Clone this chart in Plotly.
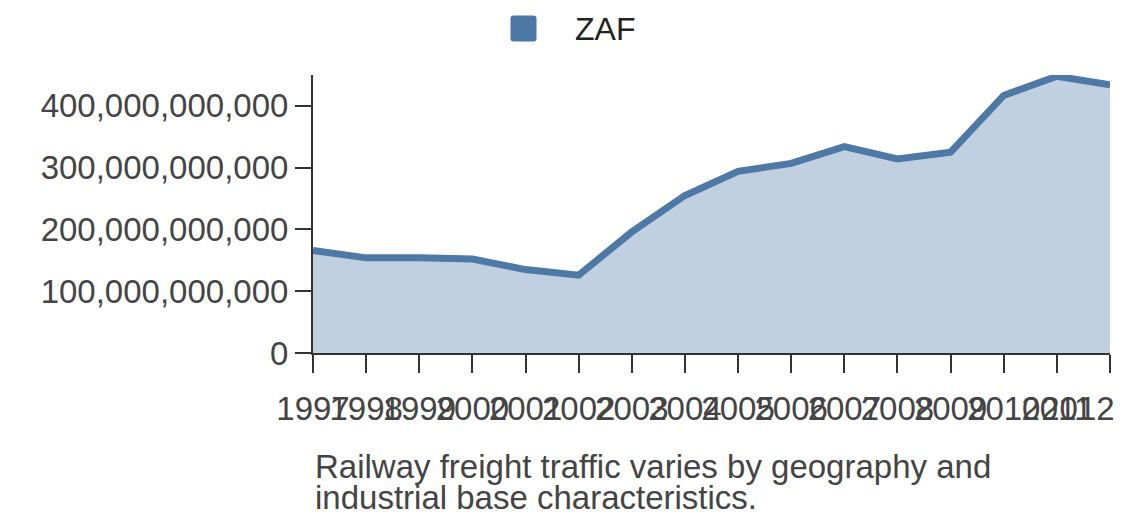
import plotly.graph_objects as go

years = list(range(1997, 2013))
freight = [166e9, 154e9, 154e9, 152e9, 135e9, 126e9, 196e9, 255e9,
           294e9, 307e9, 334e9, 314e9, 325e9, 417e9, 448e9, 434e9]
country = "ZAF"
caption = ["Railway freight traffic varies by geography and",
           "industrial base characteristics."]

line_col = "#4e79a7"
fill_col = "rgba(78,121,167,0.35)"
font_fam = "Liberation Sans, Arial, sans-serif"

# the html page puts an 8px body margin around the figure
OFF = 8
W, H = 1140 - 2 * OFF, 528 - 2 * OFF
ml, mt = 313 - OFF, 75 - OFF
mr = W - (1110 - OFF)
mb = H - (353 - OFF)
plot_w = W - ml - mr
plot_h = H - mt - mb

# window pixel -> paper coords
def px_x(p):
    return (p - OFF - ml) / plot_w

def px_y(p):
    return (H - mb - (p - OFF)) / plot_h

fig = go.Figure()
fig.add_trace(go.Scatter(x=years, y=freight, mode="lines", fill="tozeroy",
                         fillcolor=fill_col, line=dict(color=line_col, width=7),
                         cliponaxis=False,
                         name=country, showlegend=False, hoverinfo="x+y"))

# last label nudged left so it stays inside the page (as in the original)
ticktext = [str(y) for y in years]
ticktext[-1] = ticktext[-1] + "&nbsp;" * 7

fig.update_layout(
    width=W, height=H,
    margin=dict(l=ml, r=mr, t=mt, b=mb, autoexpand=False),
    plot_bgcolor="white", paper_bgcolor="white",
    font=dict(family=font_fam, size=33, color="#444"),
    showlegend=False,
)
fig.update_xaxes(range=[1997, 2012], tickmode="array", tickvals=years,
                 ticktext=ticktext, tickangle=0, ticklabeloverflow="allow",
                 showgrid=False, zeroline=False, showline=True,
                 linecolor="#333", linewidth=2, ticks="outside", ticklen=18,
                 tickwidth=2, tickcolor="#333", ticklabelstandoff=7,
                 tickfont=dict(size=33, color="#444"))
fig.update_yaxes(range=[0, 450e9], tickvals=[0, 100e9, 200e9, 300e9, 400e9],
                 tickformat=",d", showgrid=False, zeroline=False, showline=True,
                 linecolor="#333", linewidth=2, ticks="outside", ticklen=16,
                 tickwidth=2, tickcolor="#333", ticklabelstandoff=0,
                 tickfont=dict(size=33, color="#444"))

# legend: rounded square swatch + label
r, s = 3, 13
fig.add_shape(type="path", xref="paper", yref="paper",
              xsizemode="pixel", ysizemode="pixel",
              xanchor=px_x(523.5), yanchor=px_y(28.5),
              path=(f"M {-s+r},{-s} L {s-r},{-s} Q {s},{-s} {s},{-s+r} "
                    f"L {s},{s-r} Q {s},{s} {s-r},{s} L {-s+r},{s} "
                    f"Q {-s},{s} {-s},{s-r} L {-s},{-s+r} Q {-s},{-s} {-s+r},{-s} Z"),
              fillcolor=line_col, line=dict(width=0))
fig.add_annotation(text=country, xref="paper", x=px_x(573), xanchor="left",
                   yref="paper", y=px_y(29), yanchor="middle", showarrow=False,
                   font=dict(size=32, color="#222"))

for i, line in enumerate(caption):
    fig.add_annotation(text=line, xref="paper", x=px_x(313), xanchor="left",
                       yref="paper", y=px_y(466 + i * 32),
                       yanchor="middle", showarrow=False, align="left",
                       font=dict(size=33, color="#444"))

fig.write_html("out.html")
